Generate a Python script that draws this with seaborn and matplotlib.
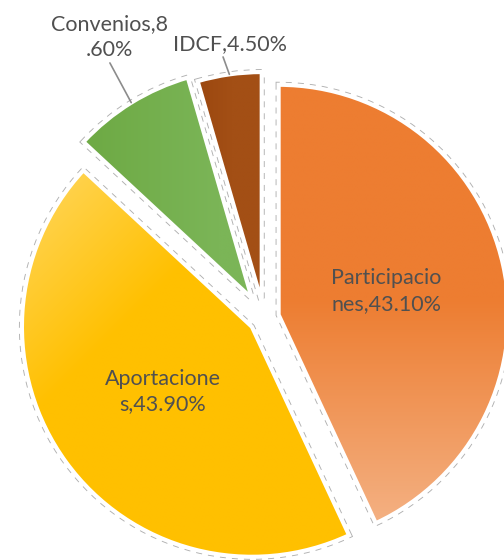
import numpy as np
import matplotlib
matplotlib.use("Agg")
import matplotlib.pyplot as plt
import matplotlib.colors as mcolors
import seaborn as sns

# datos del grafico
nombres = ["Participaciones", "Aportaciones", "Convenios", "IDCF"]
valores = [43.1, 43.9, 8.6, 4.5]
corte = [12, 11, 11, None]          # donde Excel parte la etiqueta
colores_ini = ["#ED7D31", "#FFD453", "#6EAA45", "#9A460E"]
colores_fin = ["#F4B183", "#FFC000", "#7BB557", "#A34F15"]
separacion = [0.065, 0.065, 0.10, 0.07]

sns.set_theme(style="white")
plt.rcParams['font.family'] = ['Lato', 'DejaVu Sans']

fig = plt.figure(figsize=(5.04, 5.6), dpi=100)
ax = fig.add_axes([0, 0, 1, 1])

# contorno gris punteado (debajo)
ax.pie(valores, explode=separacion, startangle=90, counterclock=False,
       wedgeprops=dict(facecolor='none', edgecolor='#b0b0b0', linewidth=4.3,
                       linestyle=(0, (1.0, 1.0)), zorder=1))
# rebanadas con borde blanco (encima)
wedges, _ = ax.pie(valores, explode=separacion, startangle=90, counterclock=False,
                   wedgeprops=dict(facecolor='none', edgecolor='white', linewidth=3, zorder=3))

x0, x1 = -264 / 230, 240 / 230
y0, y1 = -242 / 230, 318 / 230
xs = np.linspace(x0, x1, 400)
ys = np.linspace(y1, y0, 440)
X, Y = np.meshgrid(xs, ys)

# parametro del degradado para cada rebanada
ts = [
    np.clip((0.08 - Y) / 0.98, 0, 1),                                   # vertical
    np.clip(((X + 0.974) - (Y - 0.557)) / 0.95, 0, 1),                  # diagonal
    np.clip((X + 0.75) / 0.55, 0, 1),
    np.clip((X + 0.32) / 0.18, 0, 1),
]
for w, t, ca, cb in zip(wedges, ts, colores_ini, colores_fin):
    a = np.array(mcolors.to_rgb(ca))
    b = np.array(mcolors.to_rgb(cb))
    img = a + (b - a) * t[..., None]
    im = ax.imshow(img, extent=(x0, x1, y0, y1), origin='upper', zorder=2,
                   interpolation='bilinear', aspect='auto')
    im.set_clip_path(w)

# etiquetas
textos = []
for n, v, c in zip(nombres, valores, corte):
    s = f"{n},{v:.2f}%"
    if c is not None:
        s = s[:c] + "\n" + s[c:]
    textos.append(s)

total = sum(valores)
acum = 0
for i, (w, v) in enumerate(zip(wedges, valores)):
    medio = np.deg2rad((acum + v / 2) / total * 360)
    acum += v
    dx, dy = np.sin(medio), np.cos(medio)
    e = separacion[i]
    if i < 2:
        r = 0.48
        ax.text((r + e) * dx, (r + e) * dy, textos[i], ha='center', va='center',
                fontsize=15.5, color='#505050', linespacing=1.35, zorder=5)
    else:
        px, py = (1 + e) * dx, (1 + e) * dy
        if i == 2:
            fin, pos = (-0.670, 1.109), (-0.670, 1.222)
        else:
            fin, pos = (-0.178, 1.135), (-0.148, 1.190)
        ax.plot([px, fin[0]], [py, fin[1]], color='#8c8c8c', lw=1.2, zorder=4)
        ax.text(pos[0], pos[1], textos[i], ha='center', va='center',
                fontsize=15.5, color='#505050', linespacing=1.35, zorder=5)

ax.set_xlim(x0, x1)
ax.set_ylim(y0, y1)
ax.set_aspect('auto')
ax.axis('off')
fig.savefig("out.png", dpi=100)
